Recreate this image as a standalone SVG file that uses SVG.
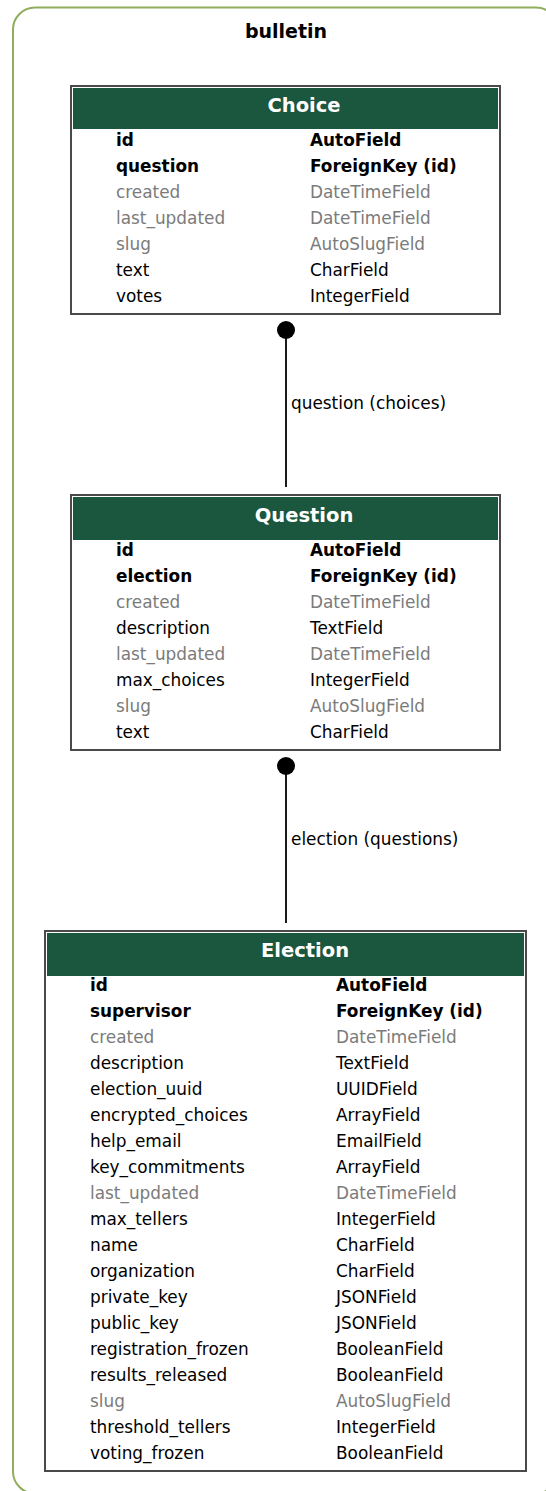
<svg xmlns="http://www.w3.org/2000/svg" width="546" height="1491" viewBox="0 0 546 1491">
  <style>
    text { font-family: "DejaVu Sans", "Liberation Sans", sans-serif; }
    .cluster { fill: #ffffff; stroke: #8fae5b; stroke-width: 2; }
    .title { font-size: 19px; font-weight: bold; fill: #000; }
    .box { fill: #ffffff; stroke: #4a4a4a; stroke-width: 2; }
    .head { fill: #1b563f; }
    .hname { font-size: 19.5px; font-weight: bold; fill: #ffffff; text-anchor: middle; }
    .f { font-size: 16.9px; fill: #000; }
    .k { font-size: 16.9px; font-weight: bold; fill: #000; }
    .g { font-size: 16.9px; fill: #7b7b7b; }
    .edge { stroke: #1a1a1a; stroke-width: 2; fill: none; }
    .dot { fill: #000; }
    .elabel { font-size: 16.9px; fill: #000; }
  </style>

  <!-- app cluster -->
  <g id="cluster-bulletin">
    <rect class="cluster" x="13" y="7.5" width="545" height="1486" rx="22" ry="22"/>
    <text class="title" x="286" y="38" text-anchor="middle">bulletin</text>
  </g>

  <!-- relations -->
  <g id="connectors">
    <g id="edge-choice-question">
      <line class="edge" x1="286" y1="330" x2="286" y2="487"/>
      <circle class="dot" cx="286" cy="330" r="9"/>
      <text class="elabel" x="291" y="409">question (choices)</text>
    </g>
    <g id="edge-question-election">
      <line class="edge" x1="286" y1="766" x2="286" y2="923"/>
      <circle class="dot" cx="286" cy="766" r="9"/>
      <text class="elabel" x="291" y="845">election (questions)</text>
    </g>
  </g>

  <!-- Choice model -->
  <g id="node-choice" transform="translate(71,86)">
    <rect class="box" x="0" y="0" width="429" height="228"/>
    <rect class="head" x="2" y="2" width="425" height="41"/>
    <text class="hname" x="233" y="26">Choice</text>
    <text class="k" x="45" y="59.5">id</text><text class="k" x="239" y="59.5">AutoField</text>
    <text class="k" x="45" y="85.5">question</text><text class="k" x="239" y="85.5">ForeignKey (id)</text>
    <text class="g" x="45" y="111.5">created</text><text class="g" x="239" y="111.5">DateTimeField</text>
    <text class="g" x="45" y="137.5">last_updated</text><text class="g" x="239" y="137.5">DateTimeField</text>
    <text class="g" x="45" y="163.5">slug</text><text class="g" x="239" y="163.5">AutoSlugField</text>
    <text class="f" x="45" y="189.5">text</text><text class="f" x="239" y="189.5">CharField</text>
    <text class="f" x="45" y="215.5">votes</text><text class="f" x="239" y="215.5">IntegerField</text>
  </g>

  <!-- Question model -->
  <g id="node-question" transform="translate(71,495)">
    <rect class="box" x="0" y="0" width="429" height="255"/>
    <rect class="head" x="2" y="2" width="425" height="43"/>
    <text class="hname" x="233" y="27">Question</text>
    <text class="k" x="45" y="60.5">id</text><text class="k" x="239" y="60.5">AutoField</text>
    <text class="k" x="45" y="86.5">election</text><text class="k" x="239" y="86.5">ForeignKey (id)</text>
    <text class="g" x="45" y="112.5">created</text><text class="g" x="239" y="112.5">DateTimeField</text>
    <text class="f" x="45" y="138.5">description</text><text class="f" x="239" y="138.5">TextField</text>
    <text class="g" x="45" y="164.5">last_updated</text><text class="g" x="239" y="164.5">DateTimeField</text>
    <text class="f" x="45" y="190.5">max_choices</text><text class="f" x="239" y="190.5">IntegerField</text>
    <text class="g" x="45" y="216.5">slug</text><text class="g" x="239" y="216.5">AutoSlugField</text>
    <text class="f" x="45" y="242.5">text</text><text class="f" x="239" y="242.5">CharField</text>
  </g>

  <!-- Election model -->
  <g id="node-election" transform="translate(45,931)">
    <rect class="box" x="0" y="0" width="481" height="540"/>
    <rect class="head" x="2" y="2" width="477" height="43"/>
    <text class="hname" x="260" y="26">Election</text>
    <text class="k" x="45" y="60">id</text><text class="k" x="291" y="60">AutoField</text>
    <text class="k" x="45" y="86">supervisor</text><text class="k" x="291" y="86">ForeignKey (id)</text>
    <text class="g" x="45" y="112">created</text><text class="g" x="291" y="112">DateTimeField</text>
    <text class="f" x="45" y="138">description</text><text class="f" x="291" y="138">TextField</text>
    <text class="f" x="45" y="164">election_uuid</text><text class="f" x="291" y="164">UUIDField</text>
    <text class="f" x="45" y="190">encrypted_choices</text><text class="f" x="291" y="190">ArrayField</text>
    <text class="f" x="45" y="216">help_email</text><text class="f" x="291" y="216">EmailField</text>
    <text class="f" x="45" y="242">key_commitments</text><text class="f" x="291" y="242">ArrayField</text>
    <text class="g" x="45" y="268">last_updated</text><text class="g" x="291" y="268">DateTimeField</text>
    <text class="f" x="45" y="294">max_tellers</text><text class="f" x="291" y="294">IntegerField</text>
    <text class="f" x="45" y="320">name</text><text class="f" x="291" y="320">CharField</text>
    <text class="f" x="45" y="346">organization</text><text class="f" x="291" y="346">CharField</text>
    <text class="f" x="45" y="372">private_key</text><text class="f" x="291" y="372">JSONField</text>
    <text class="f" x="45" y="398">public_key</text><text class="f" x="291" y="398">JSONField</text>
    <text class="f" x="45" y="424">registration_frozen</text><text class="f" x="291" y="424">BooleanField</text>
    <text class="f" x="45" y="450">results_released</text><text class="f" x="291" y="450">BooleanField</text>
    <text class="g" x="45" y="476">slug</text><text class="g" x="291" y="476">AutoSlugField</text>
    <text class="f" x="45" y="502">threshold_tellers</text><text class="f" x="291" y="502">IntegerField</text>
    <text class="f" x="45" y="528">voting_frozen</text><text class="f" x="291" y="528">BooleanField</text>
  </g>
</svg>
